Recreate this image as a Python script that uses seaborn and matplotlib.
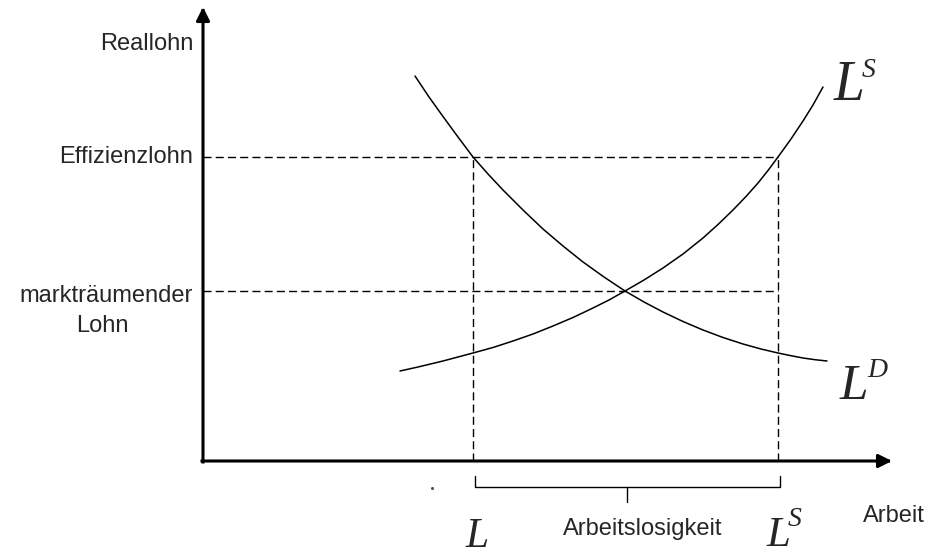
import matplotlib

matplotlib.use("Agg")
import matplotlib.pyplot as plt
import pandas as pd
import seaborn as sns

# Schematic units: x = Arbeit, y = Reallohn (origin at the axis corner)
SUPPLY_X = [197, 215, 240, 255, 270, 290, 310, 330, 350, 370, 390, 406, 422,
            441, 460, 480, 500, 515, 530, 543, 555, 565, 575, 588, 600, 610, 620]
SUPPLY_Y = [90, 94, 100, 104, 108, 113.5, 120, 127, 135, 143.5, 153, 161, 170,
            181, 193, 207, 223, 236.5, 251, 264.5, 278, 290.5, 304, 322, 340, 356, 374]

DEMAND_X = [212, 226, 240, 255, 270, 285, 300, 320, 340, 360, 380, 401, 422,
            441, 460, 480, 500, 520, 540, 558, 575, 588, 600, 612, 624]
DEMAND_Y = [385, 364, 344.5, 324, 304, 287, 271, 251, 232, 215, 199, 184, 170,
            159, 149, 139.5, 131, 123.5, 117, 112, 108, 105.3, 103, 101.3, 100]

WAGE_EFFICIENCY = 304  # Effizienzlohn
WAGE_CLEARING = 170  # markträumender Lohn
EMPLOYMENT = 270  # L
LABOUR_SUPPLY = 575  # L^S
UNEMPLOYMENT_MID = 424

X_MAX = 689
Y_MAX = 454

SANS = "Liberation Sans"
SERIF = "Liberation Serif"

sns.set_theme(style="white")
plt.rcParams["font.family"] = [SANS, "DejaVu Sans"]

fig = plt.figure(figsize=(9.34, 5.53), dpi=100)
ax = fig.add_axes([0, 0, 1, 1])
ax.set_xlim(-203, 731)
ax.set_ylim(-92, 461)
ax.axis("off")

curves = pd.concat(
    [
        pd.DataFrame({"Arbeit": SUPPLY_X, "Reallohn": SUPPLY_Y, "curve": "LS"}),
        pd.DataFrame({"Arbeit": DEMAND_X, "Reallohn": DEMAND_Y, "curve": "LD"}),
    ]
)
sns.lineplot(
    data=curves,
    x="Arbeit",
    y="Reallohn",
    units="curve",
    estimator=None,
    color="black",
    linewidth=1.1,
    ax=ax,
    legend=False,
)

# dashed guide lines
dash = dict(color="black", linewidth=1.0, linestyle=(0, (5.8, 3.0)))
ax.hlines([WAGE_EFFICIENCY, WAGE_CLEARING], 0, LABOUR_SUPPLY, **dash)
ax.vlines([EMPLOYMENT, LABOUR_SUPPLY], 0, WAGE_EFFICIENCY, **dash)

# axes with arrow heads
arrow = dict(
    arrowstyle="-|>",
    color="black",
    lw=2.2,
    mutation_scale=20,
    shrinkA=0,
    shrinkB=0,
    capstyle="projecting",
)
ax.annotate("", xy=(X_MAX, 0), xytext=(-1, 0), arrowprops=arrow)
ax.annotate("", xy=(0, Y_MAX), xytext=(0, -1), arrowprops=arrow)

# bracket for unemployment
br_y = -26
ax.plot(
    [EMPLOYMENT + 2, EMPLOYMENT + 2, LABOUR_SUPPLY + 2, LABOUR_SUPPLY + 2],
    [-15, br_y, br_y, -15],
    color="black",
    linewidth=1.0,
)
ax.plot([UNEMPLOYMENT_MID, UNEMPLOYMENT_MID], [br_y, -41], color="black", linewidth=1.0)
ax.scatter([229], [-27], s=1.5, color="#555555")

# axis texts
fs = 17
ax.text(-10, 411, "Reallohn", ha="right", va="baseline", fontsize=fs)
ax.text(-10, 298, "Effizienzlohn", ha="right", va="baseline", fontsize=fs)
ax.text(-10, 159, "markträumender", ha="right", va="baseline", fontsize=fs)
ax.text(-101, 129, "Lohn", ha="center", va="baseline", fontsize=fs)
ax.text(660, -61, "Arbeit", ha="left", va="baseline", fontsize=fs)
ax.text(360, -74, "Arbeitslosigkeit", ha="left", va="baseline", fontsize=fs)

# curve labels in serif italic
serif = dict(family=SERIF, style="italic", va="baseline", ha="left")
ax.text(631, 361, "L", fontsize=40, **serif)
ax.text(659, 384, "S", fontsize=20, **serif)
ax.text(637, 62, "L", fontsize=37, **serif)
ax.text(664, 84, "D", fontsize=20, **serif)
ax.text(262, -86, "L", fontsize=30, **serif)
ax.text(564, -85, "L", fontsize=31, **serif)
ax.text(585, -65, "S", fontsize=20, **serif)

fig.savefig("out.png", dpi=100, facecolor="white")
